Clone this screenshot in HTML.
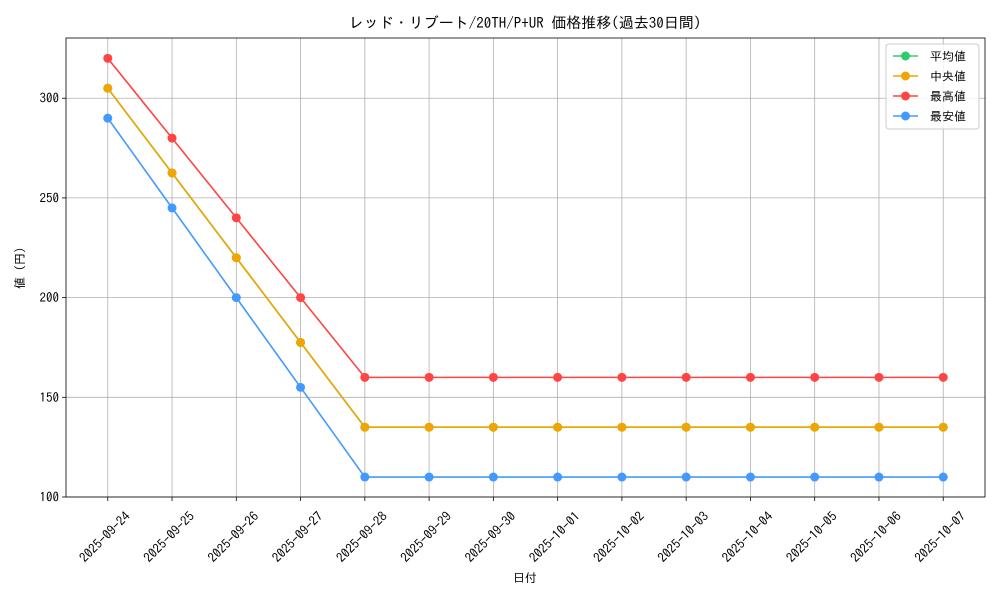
<!DOCTYPE html>
<html><head><meta charset="utf-8"><style>
body{margin:0;background:#fff;}
svg text{font-family:"IPAGothic","Liberation Sans","Noto Sans CJK JP",sans-serif;fill:#000;}
</style></head><body>
<svg id="chart" width="1000" height="600" xmlns="http://www.w3.org/2000/svg">
<text x="525" y="28" font-size="15" text-anchor="middle">レッド・リブート/20TH/P+UR 価格推移(過去30日間)</text>
<g id="grid"></g>
<g id="axes"></g>
<g id="series"></g>
<text x="525" y="582" font-size="12" text-anchor="middle">日付</text>
<text transform="translate(24,268) rotate(-90)" font-size="12" text-anchor="middle">値 (円)</text>
<g id="legend"></g>
</svg>
<script>
const categories=["2025-09-24","2025-09-25","2025-09-26","2025-09-27","2025-09-28","2025-09-29","2025-09-30","2025-10-01","2025-10-02","2025-10-03","2025-10-04","2025-10-05","2025-10-06","2025-10-07"];
const avgValues=[305,262.5,220,177.5,135,135,135,135,135,135,135,135,135,135];
const medianValues=[305,262.5,220,177.5,135,135,135,135,135,135,135,135,135,135];
const maxValues=[320,280,240,200,160,160,160,160,160,160,160,160,160,160];
const minValues=[290,245,200,155,110,110,110,110,110,110,110,110,110,110];
const yTicks=[100,150,200,250,300];
const seriesNames=["平均値","中央値","最高値","最安値"];
const seriesColors=["#2ecc71","#f0a500","#ff4444","#4499ff"];

const L=66,R=985,T=38,B=497;
const n=categories.length;
const xMin=-0.65,xMax=n-1+0.65;
const yMin=100,yMax=330.2;
const xs=i=>L+(i-xMin)/(xMax-xMin)*(R-L);
const ys=v=>B-(v-yMin)/(yMax-yMin)*(B-T);
const NS="http://www.w3.org/2000/svg";
function mk(tag,parent,attrs){const e=document.createElementNS(NS,tag);for(const k in attrs)e.setAttribute(k,attrs[k]);parent.appendChild(e);return e;}
const grid=document.getElementById('grid'),axes=document.getElementById('axes'),ser=document.getElementById('series'),leg=document.getElementById('legend');
categories.forEach((c,i)=>{
  const x=xs(i);
  const g=mk('line',grid,{x1:x,x2:x,y1:T,y2:B,stroke:'#b0b0b0','stroke-width':0.8});
  
  
  mk('line',axes,{x1:x,x2:x,y1:B,y2:B+4,stroke:'#000','stroke-width':0.8});
  const cy=B+40, cx=x-3;
  const t=mk('text',axes,{x:cx,y:cy+4.5,'font-size':13,'text-anchor':'middle',transform:`rotate(-45 ${cx} ${cy})`});
  t.textContent=c;
  
  
});
yTicks.forEach(v=>{
  const y=ys(v);
  const g=mk('line',grid,{x1:L,x2:R,y1:y,y2:y,stroke:'#b0b0b0','stroke-width':0.8});
  
  
  mk('line',axes,{x1:L-4,x2:L,y1:y,y2:y,stroke:'#000','stroke-width':0.8});
  const t=mk('text',axes,{x:L-7,y:y+4.5,'font-size':13,'text-anchor':'end'});
  t.textContent=v;
  
  
});
const frame=mk('rect',axes,{x:L,y:T,width:R-L,height:B-T,fill:'none',stroke:'#000','stroke-width':0.8});


const allSeries=[avgValues,medianValues,maxValues,minValues];
const keys=['average','median','max','min'];
allSeries.forEach((vals,si)=>{
  const g=mk('g',ser,{});
  
  
  const p=mk('polyline',g,{points:vals.map((v,i)=>xs(i)+','+ys(v)).join(' '),fill:'none',stroke:seriesColors[si],'stroke-width':1.6});
  
  
  vals.forEach((v,i)=>{
    const c=mk('circle',g,{cx:xs(i),cy:ys(v),r:4.5,fill:seriesColors[si]});
    
    
  });
});
const box=mk('rect',leg,{x:886,y:44,width:93,height:85,rx:3,fill:'#fff','fill-opacity':0.8,stroke:'#ccc'});


seriesNames.forEach((nm,i)=>{
  const y=56+i*20;
  const g=mk('g',leg,{});
  
  
  mk('line',g,{x1:893,x2:918,y1:y,y2:y,stroke:seriesColors[i],'stroke-width':1.6});
  mk('circle',g,{cx:905.5,cy:y,r:4.5,fill:seriesColors[i]});
  const t=mk('text',g,{x:930,y:y+4.5,'font-size':12});
  t.textContent=nm;
});
</script>
</body></html>
